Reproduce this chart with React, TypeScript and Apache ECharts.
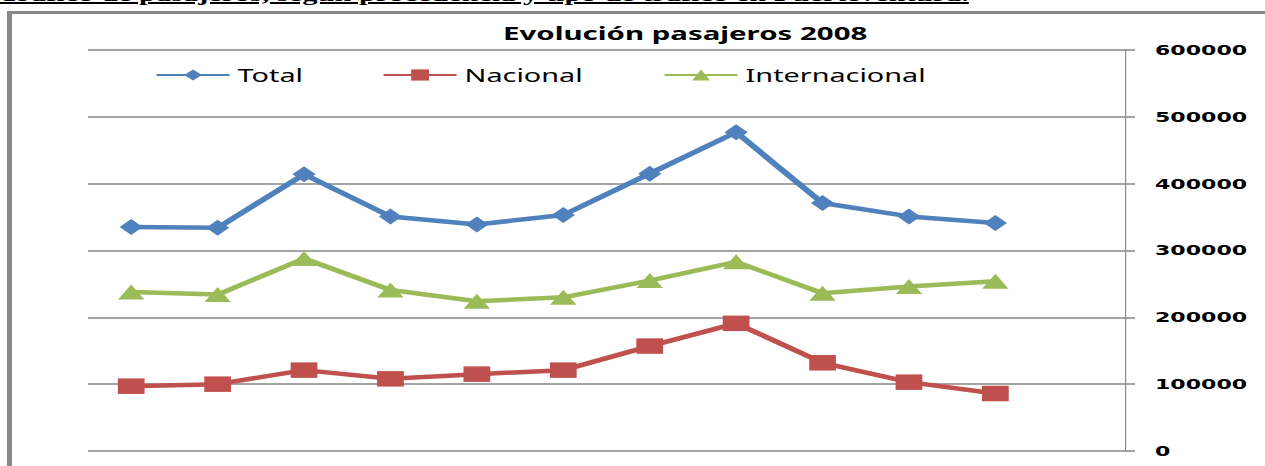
import React, { useEffect, useRef } from 'react';
import * as echarts from 'echarts';

// Data
const months = ['Ene', 'Feb', 'Mar', 'Abr', 'May', 'Jun', 'Jul', 'Ago', 'Sep', 'Oct', 'Nov', 'Dic'];
const total = [335000, 334000, 414000, 351000, 339000, 353000, 415000, 477000, 371000, 351000, 341000, null];
const nacional = [97000, 100000, 121000, 108000, 115000, 121000, 157000, 191000, 132000, 103000, 86000, null];
const internacional = [238000, 234000, 288000, 241000, 224000, 230000, 255000, 283000, 236000, 246000, 254000, null];
const yMin = 0;
const yMax = 600000;
const yInterval = 100000;
const chartTitle = 'Evolución pasajeros 2008';
const heading = 'Tráfico de pasajeros, según procedencia y tipo de tráfico en Fuerteventura.';
const seriesNames = ['Total', 'Nacional', 'Internacional'];

// Layout (reference pixels); the chart is drawn narrower and stretched horizontally
const S = 1.6;
const PAGE_W = 1265;
const PAGE_H = 466;
const W = PAGE_W / S;
const GRID = '#868686';

export default function App() {
  const ref = useRef<HTMLDivElement>(null);

  useEffect(() => {
    const chart = echarts.init(ref.current!, null, { renderer: 'svg', width: W, height: PAGE_H });
    const legendBase = {
      top: 66,
      padding: 0,
      itemWidth: 73 / S,
      itemHeight: 14,
      textStyle: { fontFamily: 'Noto Sans', fontSize: 18, color: '#000' },
    };
    chart.setOption({
      animation: false,
      title: {
        text: chartTitle,
        left: 503 / S,
        top: 24,
        padding: 0,
        textStyle: { fontFamily: 'Noto Sans', fontWeight: 'bold', fontSize: 18.4, color: '#000' },
      },
      legend: [
        { ...legendBase, left: 155 / S, data: [seriesNames[0]] },
        { ...legendBase, left: 382 / S, data: [seriesNames[1]] },
        { ...legendBase, left: 663 / S, data: [seriesNames[2]] },
      ],
      grid: { left: 88 / S, right: W - 1125 / S, top: 50, bottom: PAGE_H - 451, containLabel: false },
      xAxis: {
        type: 'category',
        data: months,
        boundaryGap: true,
        axisLine: { show: false },
        axisTick: { show: false },
        axisLabel: { show: false },
        splitLine: { show: false },
      },
      yAxis: {
        type: 'value',
        position: 'right',
        min: yMin,
        max: yMax,
        interval: yInterval,
        axisLine: { show: true, lineStyle: { color: GRID, width: 0.7 } },
        axisTick: { show: true, inside: false, length: 10 / S, lineStyle: { color: GRID, width: 1.5 } },
        axisLabel: {
          margin: 30 / S,
          fontFamily: 'DejaVu Sans',
          fontWeight: 'bold',
          fontSize: 13.8,
          color: '#000',
          formatter: (v: number) => String(v),
        },
        splitLine: { show: true, lineStyle: { color: GRID, width: 1.5 } },
      },
      series: [
        {
          name: seriesNames[0],
          type: 'line',
          data: total,
          symbol: 'diamond',
          symbolSize: [14.5, 16],
          lineStyle: { width: 4.5, color: '#4F81BD' },
          itemStyle: { color: '#4F81BD' },
        },
        {
          name: seriesNames[1],
          type: 'line',
          data: nacional,
          symbol: 'rect',
          symbolSize: [16.7, 15.5],
          lineStyle: { width: 4.5, color: '#C0504D' },
          itemStyle: { color: '#C0504D' },
        },
        {
          name: seriesNames[2],
          type: 'line',
          data: internacional,
          symbol: 'triangle',
          symbolSize: [16.5, 15],
          lineStyle: { width: 4.5, color: '#9BBB59' },
          itemStyle: { color: '#9BBB59' },
        },
      ],
    });
    return () => chart.dispose();
  }, []);

  return (
    <div
      style={{
        position: 'absolute',
        left: 0,
        top: 0,
        width: PAGE_W,
        height: PAGE_H,
        overflow: 'hidden',
        background: '#fff',
      }}
    >
      <div
        style={{
          position: 'absolute',
          right: PAGE_W - 969,
          top: -16,
          whiteSpace: 'nowrap',
          fontFamily: '"Liberation Serif", serif',
          fontWeight: 'bold',
          fontSize: 19,
          lineHeight: '22px',
          textDecoration: 'underline',
          textDecorationThickness: '2px',
          transform: `scaleX(${S})`,
          transformOrigin: 'right top',
          color: '#000',
        }}
      >
        {heading}
      </div>
      <div style={{ position: 'absolute', left: 7, top: 11, width: PAGE_W - 7, height: 2.5, background: '#888' }} />
      <div style={{ position: 'absolute', left: 7, top: 11, width: 5, height: PAGE_H - 11, background: '#888' }} />
      <div
        ref={ref}
        style={{
          position: 'absolute',
          left: 0,
          top: 0,
          width: W,
          height: PAGE_H,
          transform: `scaleX(${S})`,
          transformOrigin: '0 0',
        }}
      />
    </div>
  );
}
